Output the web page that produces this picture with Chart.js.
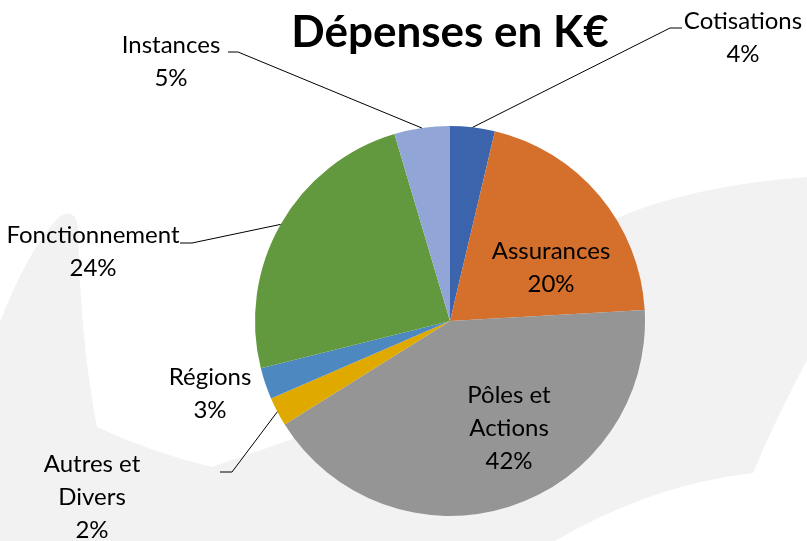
<!doctype html>
<html lang="fr">
  <head>
    <meta charset="utf-8">
    <style>
      * { margin: 0; padding: 0; }
      body { background: #fff; }
      .chartBox { width: 807px; height: 541px; }
    </style>
  </head>
  <body>
    <div class="chartBox">
      <canvas id="myChart" width="807" height="541"></canvas>
    </div>

    <script src="https://cdn.jsdelivr.net/npm/chart.js/dist/chart.umd.min.js"></script>
    <script>
    // data (in % of the total)
    const categories = ['Cotisations', 'Assurances', 'Pôles et Actions', 'Autres et Divers', 'Régions', 'Fonctionnement', 'Instances'];
    const values = [3.7, 20.4, 42.0, 2.4, 2.6, 24.3, 4.6];
    const colors = ['#3B64AD', '#D46F2C', '#959595', '#E0A900', '#4D88C1', '#62993E', '#91A6D6'];
    const chartTitle = 'Dépenses en K€';

    // label layout: centre x, first baseline, lines, leader elbow (if any)
    const labelLayout = [
      { x: 743, y: 29, lines: ['Cotisations'], elbow: [670, 28], end: [682, 28] },
      { x: 551, y: 259, lines: ['Assurances'] },
      { x: 509, y: 403, lines: ['Pôles et', 'Actions'] },
      { x: 92, y: 472, lines: ['Autres et', 'Divers'], elbow: [232, 472], end: [220, 472] },
      { x: 210, y: 385, lines: ['Régions'] },
      { x: 93, y: 243, lines: ['Fonctionnement'], elbow: [192, 243], end: [180, 243] },
      { x: 171, y: 53, lines: ['Instances'], elbow: [238, 52], end: [228, 52] }
    ];

    const FONT = 'Lato, "Open Sans", sans-serif';

    // faint watermark behind the chart
    const backdrop = {
      id: 'backdrop',
      beforeDraw(chart) {
        const { ctx, width, height } = chart;
        ctx.save();
        ctx.fillStyle = '#fff';
        ctx.fillRect(0, 0, width, height);
        ctx.fillStyle = '#F2F2F2';
        ctx.beginPath();
        ctx.moveTo(0, 322);
        ctx.quadraticCurveTo(28, 250, 58, 218);
        ctx.quadraticCurveTo(74, 206, 78, 226);
        ctx.quadraticCurveTo(80, 340, 97, 427);
        ctx.quadraticCurveTo(150, 452, 212, 467);
        ctx.lineTo(290, 440);
        ctx.lineTo(450, 321);
        ctx.lineTo(617, 218);
        ctx.quadraticCurveTo(690, 186, 807, 177);
        ctx.lineTo(807, 360);
        ctx.quadraticCurveTo(775, 420, 753, 473);
        ctx.quadraticCurveTo(650, 485, 555, 541);
        ctx.lineTo(0, 541);
        ctx.closePath();
        ctx.fill();
        ctx.restore();
      }
    };

    // title, data labels and leader lines
    const pieLabels = {
      id: 'pieLabels',
      afterDatasetsDraw(chart) {
        const { ctx } = chart;
        const meta = chart.getDatasetMeta(0);
        const total = values.reduce((a, b) => a + b, 0);

        ctx.save();
        ctx.fillStyle = '#000';
        ctx.textAlign = 'center';
        ctx.textBaseline = 'alphabetic';
        ctx.font = 'bold 44px ' + FONT;
        ctx.fillText(chartTitle, 450, 47);

        ctx.font = '24px ' + FONT;
        ctx.strokeStyle = '#000';
        ctx.lineWidth = 1;
        meta.data.forEach((arc, i) => {
          const p = arc.getProps(['x', 'y', 'startAngle', 'endAngle', 'outerRadius'], true);
          const mid = (p.startAngle + p.endAngle) / 2;
          const lay = labelLayout[i];
          if (lay.elbow) {
            ctx.beginPath();
            ctx.moveTo(p.x + Math.cos(mid) * p.outerRadius, p.y + Math.sin(mid) * p.outerRadius);
            ctx.lineTo(lay.elbow[0], lay.elbow[1]);
            ctx.lineTo(lay.end[0], lay.end[1]);
            ctx.stroke();
          }
          const pct = Math.round(values[i] / total * 100) + '%';
          const lines = lay.lines.concat([pct]);
          lines.forEach((t, k) => {
            ctx.fillText(t, lay.x, lay.y + k * 33);
          });
        });
        ctx.restore();
      }
    };

    const data = {
      labels: categories,
      datasets: [{
        data: values,
        backgroundColor: colors,
        borderWidth: 0
      }]
    };

    const config = {
      type: 'pie',
      data,
      options: {
        responsive: false,
        animation: false,
        layout: {
          padding: { left: 255, right: 162, top: 126, bottom: 25 }
        },
        plugins: {
          legend: { display: false },
          tooltip: { enabled: false }
        }
      },
      plugins: [backdrop, pieLabels]
    };

    const myChart = new Chart(document.getElementById('myChart'), config);
    </script>
  </body>
</html>
